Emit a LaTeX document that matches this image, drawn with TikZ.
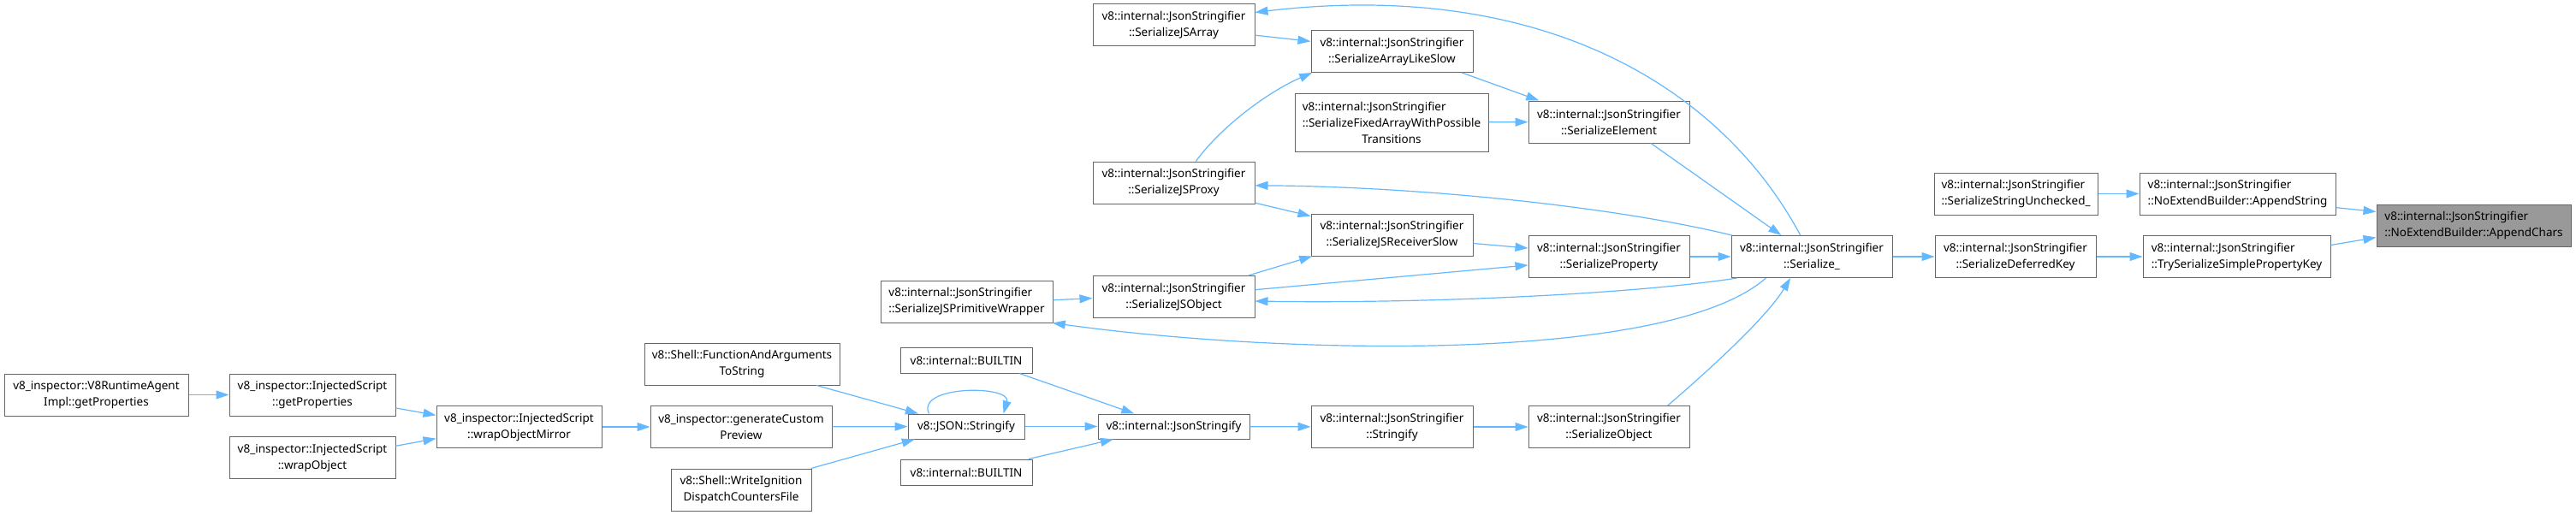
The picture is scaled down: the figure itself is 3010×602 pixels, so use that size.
\documentclass[tikz,border=0pt]{standalone}
\usepackage{fontspec}
\setmainfont{Noto Sans}
\usetikzlibrary{arrows.meta}
\definecolor{edgeblue}{HTML}{63B8FF}
\definecolor{framegray}{HTML}{666666}
\definecolor{rootgray}{HTML}{999999}

\begin{document}
\begin{tikzpicture}[
  x=1pt, y=-1pt,
  font=\fontsize{13.5}{19}\selectfont,
  fn/.style={rectangle, draw=framegray, line width=1pt, fill=white,
             inner sep=0pt, minimum height=49pt, align=center},
  fnl/.style={fn, align=left},
  one/.style={fn, minimum height=29pt},
  root/.style={fnl, fill=rootgray},
  call/.style={-{Triangle[length=15pt,width=10pt]}, draw=edgeblue, line width=1.2pt}
]
\fill[white] (0,0) rectangle (3010,602);
\useasboundingbox (0,0) rectangle (3010,602);

\node[fn, minimum width=215] (agent) at (112.5,461.5) {v8\_inspector::V8RuntimeAgent\\Impl::getProperties};
\node[fn, minimum width=194] (getProps) at (365,461.5) {v8\_inspector::InjectedScript\\::getProperties};
\node[fn, minimum width=194] (wrapObject) at (365,535) {v8\_inspector::InjectedScript\\::wrapObject};
\node[fn, minimum width=193] (wrapMirror) at (606.5,499) {v8\_inspector::InjectedScript\\::wrapObjectMirror};
\node[fn, minimum width=212] (preview) at (866,499) {v8\_inspector::generateCustom\\Preview};
\node[fn, minimum width=228] (fnArgs) at (867,425.5) {v8::Shell::FunctionAndArguments\\ToString};
\node[fn, minimum width=164] (writeIgn) at (866,572.5) {v8::Shell::WriteIgnition\\DispatchCountersFile};
\node[one, minimum width=136] (jsonStr) at (1129,498.5) {v8::JSON::Stringify};
\node[one, minimum width=154, minimum height=30] (builtinA) at (1129,421) {v8::internal::BUILTIN};
\node[one, minimum width=154, minimum height=30] (builtinB) at (1129,552) {v8::internal::BUILTIN};
\node[one, minimum width=177] (jsonStringify) at (1371.5,498.5) {v8::internal::JsonStringify};
\node[fn, minimum width=189] (stringify) at (1626.5,499) {v8::internal::JsonStringifier\\::Stringify};
\node[fn, minimum width=188] (serObject) at (1880,499) {v8::internal::JsonStringifier\\::SerializeObject};

\node[fn, minimum width=189] (jsArray) at (1371.5,29.5) {v8::internal::JsonStringifier\\::SerializeJSArray};
\node[fn, minimum width=189] (arrayLike) at (1626.5,60) {v8::internal::JsonStringifier\\::SerializeArrayLikeSlow};
\node[fn, minimum width=226, minimum height=68] (fixedArray) at (1626,143) {\rlap{v8::internal::JsonStringifier}\hphantom{::SerializeFixedArrayWithPossible}\\::SerializeFixedArrayWithPossible\\Transitions};
\node[fn, minimum width=188] (element) at (1880,142.5) {v8::internal::JsonStringifier\\::SerializeElement};
\node[fn, minimum width=189] (jsProxy) at (1371.5,213.5) {v8::internal::JsonStringifier\\::SerializeJSProxy};
\node[fn, minimum width=189] (receiverSlow) at (1626.5,274.5) {v8::internal::JsonStringifier\\::SerializeJSReceiverSlow};
\node[fn, minimum width=188] (property) at (1880,300) {v8::internal::JsonStringifier\\::SerializeProperty};
\node[fn, minimum width=189] (jsObject) at (1371.5,347) {v8::internal::JsonStringifier\\::SerializeJSObject};
\node[fnl, minimum width=201] (primWrapper) at (1129.5,352.5) {v8::internal::JsonStringifier\\::SerializeJSPrimitiveWrapper};

\node[fn, minimum width=188] (serialize) at (2117,300) {v8::internal::JsonStringifier\\::Serialize\_};
\node[fn, minimum width=188] (deferred) at (2355,300) {v8::internal::JsonStringifier\\::SerializeDeferredKey};
\node[fnl, minimum width=219] (trySimple) at (2613.5,300) {v8::internal::JsonStringifier\\::TrySerializeSimplePropertyKey};
\node[fnl, minimum width=191] (strUnchecked) at (2355.5,226.5) {v8::internal::JsonStringifier\\::SerializeStringUnchecked\_};
\node[fnl, minimum width=229] (appendString) at (2614.5,226.5) {v8::internal::JsonStringifier\\::NoExtendBuilder::AppendString};
\node[root, minimum width=227] (appendChars) at (2890.5,263.5) {v8::internal::JsonStringifier\\::NoExtendBuilder::AppendChars};

\draw[call] (agent) -- (getProps);
\draw[call] (getProps.-9) -- (wrapMirror.172);
\draw[call] (wrapObject.8) -- (wrapMirror.188);
\draw[call] (wrapMirror) -- (preview);
\draw[call] (preview) -- (jsonStr);
\draw[call] (fnArgs.-16) -- (jsonStr.165);
\draw[call] (writeIgn.17) -- (jsonStr.194);
\draw[call] (jsonStr.161) .. controls (1070,450) and (1182,450) .. (jsonStr.19);
\draw[call] (jsonStr) -- (jsonStringify);
\draw[call] (builtinA.-14) -- (jsonStringify.162);
\draw[call] (builtinB.12) -- (jsonStringify.192);
\draw[call] (jsonStringify) -- (stringify);
\draw[call] (stringify) -- (serObject);
\draw[call] (serObject.20) .. controls (2000,430) and (2065,370) .. (serialize.225);

\draw[call] (serialize) -- (deferred);
\draw[call] (deferred) -- (trySimple);
\draw[call] (trySimple.7) -- (appendChars.187);
\draw[call] (strUnchecked) -- (appendString);
\draw[call] (appendString.-8) -- (appendChars.172);

\draw[call] (serialize.118) .. controls (2010,100) and (1800,-25) .. (jsArray.9);
\draw[call] (jsArray.-7) -- (arrayLike.173);
\draw[call] (arrayLike.-17) -- (element.163);
\draw[call] (fixedArray) -- (element);
\draw[call] (element.-27) -- (serialize.145);
\draw[call] (jsProxy.44) .. controls (1425,150) and (1480,108) .. (arrayLike.195);
\draw[call] (serialize.165) .. controls (1880,240) and (1650,218) .. (jsProxy.-2);
\draw[call] (jsProxy.-14) -- (receiverSlow.167);
\draw[call] (receiverSlow.-6) -- (property.174);
\draw[call] (jsObject.16) -- (receiverSlow.195);
\draw[call] (jsObject.5) -- (property.186);
\draw[call] (property) -- (serialize);
\draw[call] (serialize.196) .. controls (1900,345) and (1650,355) .. (jsObject.-3);
\draw[call] (primWrapper.1) -- (jsObject.181);
\draw[call] (serialize.205) .. controls (1950,425) and (1500,415) .. (primWrapper.-14);
\end{tikzpicture}
\end{document}
